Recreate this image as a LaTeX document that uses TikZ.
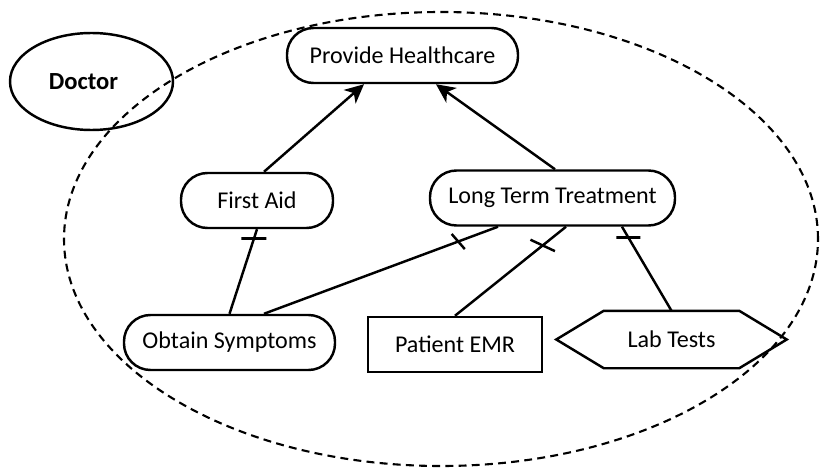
\documentclass[tikz,border=0pt]{standalone}
\usepackage{fontspec}
\setmainfont{Carlito}
\usetikzlibrary{arrows.meta,shapes.geometric}

\begin{document}
\begin{tikzpicture}[line width=1.4pt,font=\fontsize{13.7}{16}\selectfont,
	goal/.style={draw,rounded corners=0.53cm,minimum height=1.1cm,inner sep=0pt},
	barmark/.style={draw,inner sep=0pt,minimum height=0pt,minimum width=#1},
	barmark/.default=0.5cm,
	contrib/.style={-{Stealth[length=0.38cm,width=0.36cm,inset=0.11cm]}}]
	\useasboundingbox (0,0) rectangle (16.42,9.4);

	%actor boundary and actor
	\draw[line width=1.2pt,dash pattern=on 4.5pt off 3pt] (8.82,4.62) ellipse [x radius=7.54,y radius=4.54];
	\node[draw,ellipse,minimum width=3.26cm,minimum height=1.94cm,font=\fontsize{14}{16}\selectfont\bfseries] (doc) at (1.83,7.77) {\kern-0.32cm Doctor};

	%goals
	\node[goal,minimum width=4.62cm] (PH) at (8.05,8.29) {Provide Healthcare};
	\node[goal,minimum width=3.04cm] (FA) at (5.14,5.39) {First Aid};
	\node[goal,minimum width=4.9cm] (LTT) at (11.05,5.44) {Long Term Treatment};
	\node[goal,minimum width=4.22cm] (OS) at (4.59,2.55) {Obtain Symptoms};

	%resource and task
	\node[draw,minimum width=3.48cm,minimum height=1.1cm] (EMR) at (9.1,2.51) {Patient EMR};
	\node[minimum width=4.56cm,minimum height=1.1cm,inner sep=0pt] (LT) at (13.43,2.61) {Lab Tests};
	\draw (LT.west) -- ([xshift=0.95cm]LT.north west) -- ([xshift=-0.95cm]LT.north east) -- (LT.east)
		-- ([xshift=-0.95cm]LT.south east) -- ([xshift=0.95cm]LT.south west) -- cycle; %hexagon

	%contributions
	\draw[contrib] ([xshift=0.14cm]FA.north) -- ([xshift=-0.77cm]PH.south); %FA to PH
	\draw[contrib] ([xshift=0.05cm]LTT.north) -- ([xshift=0.67cm]PH.south); %LTT to PH

	%decompositions
	\draw (FA.south) -- node[barmark,pos=0.11]{} (OS.north); %FA to OS
	\draw ([xshift=-1.09cm]LTT.south) -- node[barmark=0.4cm,pos=0.17,rotate=-49]{} ([xshift=0.69cm]OS.north); %LTT to OS
	\draw ([xshift=0.27cm]LTT.south) -- node[barmark=0.54cm,pos=0.21,rotate=-25]{} (EMR.north); %LTT to EMR
	\draw ([xshift=1.39cm]LTT.south) -- node[barmark=0.48cm,pos=0.13]{} (LT.north); %LTT to LT
\end{tikzpicture}
\end{document}
